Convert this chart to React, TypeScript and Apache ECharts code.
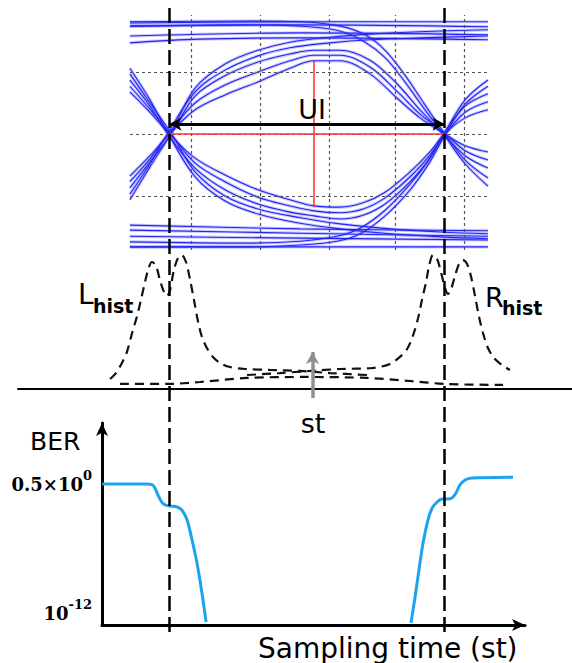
import { useEffect, useRef } from "react";
import * as echarts from "echarts";

// Horizontal scale shared by every panel: time in unit intervals (UI),
// 0 and 1 are the two crossing points of the eye.
const CROSS_PX = 169.5;
const UI_PX = 275;
const span = (left: number, width: number) => ({
  min: (left - CROSS_PX) / UI_PX,
  max: (left + width - CROSS_PX) / UI_PX,
});

// ---- Eye diagram traces: [time (UI), amplitude] ----
const topRail1 = [[-0.144, 1.79], [0.5, 1.81], [1.158, 1.81]];
const topRail2 = [[-0.144, 1.74], [0.475, 1.76], [1.158, 1.73]];
const topRail3 = [[-0.144, 1.58], [0.475, 1.63], [1.158, 1.6]];
const topRail4 = [[-0.144, 1.47], [0.11, 1.53], [0.475, 1.55], [1.158, 1.52]];

const bottomRail1 = [[-0.144, -1.47], [0.475, -1.53], [1.158, -1.56]];
const bottomRail2 = [[-0.144, -1.55], [0.475, -1.6], [1.158, -1.65]];
const bottomRail3 = [[-0.144, -1.65], [0.475, -1.68], [1.158, -1.71]];
const bottomRail4 = [[-0.144, -1.82], [1.158, -1.82]];

const upperArc1 = [[-0.144, -0.68], [-0.071, -0.35], [0, 0], [0.093, 0.39], [0.202, 0.63], [0.322, 0.84], [0.438, 1.06], [0.525, 1.18], [0.62, 1.18], [0.729, 0.97], [0.827, 0.58], [0.911, 0.26], [1.0, 0], [1.075, -0.19], [1.158, -0.29]];
const upperArc2 = [[-0.144, -0.77], [-0.071, -0.4], [-0.004, 0], [0.093, 0.5], [0.202, 0.79], [0.322, 1.0], [0.438, 1.18], [0.525, 1.27], [0.62, 1.27], [0.729, 1.08], [0.827, 0.69], [0.911, 0.32], [1.004, 0], [1.075, -0.27], [1.158, -0.42]];
const upperArc3 = [[-0.144, -0.87], [-0.071, -0.45], [0.006, 0], [0.093, 0.61], [0.202, 0.94], [0.322, 1.16], [0.438, 1.29], [0.525, 1.35], [0.62, 1.35], [0.729, 1.19], [0.827, 0.81], [0.911, 0.39], [0.996, 0], [1.075, -0.35], [1.158, -0.55]];
const riseStayHigh1 = [[-0.144, -0.97], [-0.071, -0.48], [-0.008, 0], [0.093, 0.68], [0.202, 1.03], [0.322, 1.26], [0.438, 1.39], [0.584, 1.47], [0.729, 1.52], [0.911, 1.55], [1.158, 1.58]];
const riseStayHigh2 = [[-0.144, -1.06], [-0.071, -0.53], [0.004, 0], [0.093, 0.74], [0.202, 1.13], [0.322, 1.35], [0.438, 1.48], [0.584, 1.56], [0.729, 1.61], [0.911, 1.65], [1.158, 1.68]];
const highThenFall1 = [[-0.144, 1.81], [0.293, 1.82], [0.475, 1.81], [0.62, 1.74], [0.711, 1.6], [0.784, 1.35], [0.856, 0.95], [0.929, 0.47], [1.002, 0], [1.075, -0.42], [1.158, -0.71]];
const highThenFall2 = [[-0.144, 1.74], [0.293, 1.76], [0.475, 1.74], [0.62, 1.66], [0.711, 1.48], [0.784, 1.23], [0.856, 0.84], [0.929, 0.39], [0.996, 0], [1.075, -0.48], [1.158, -0.84]];

const lowerArc1 = [[-0.144, 0.68], [-0.071, 0.35], [0, 0], [0.093, -0.39], [0.202, -0.66], [0.322, -0.9], [0.438, -1.06], [0.525, -1.16], [0.62, -1.18], [0.704, -1.11], [0.784, -0.94], [0.875, -0.61], [0.947, -0.29], [1.0, 0], [1.075, 0.26], [1.158, 0.39]];
const lowerArc2 = [[-0.144, 0.77], [-0.071, 0.4], [0.004, 0], [0.093, -0.47], [0.202, -0.77], [0.322, -1.02], [0.438, -1.16], [0.525, -1.24], [0.62, -1.27], [0.704, -1.21], [0.784, -1.03], [0.875, -0.69], [0.947, -0.34], [1.004, 0], [1.075, 0.35], [1.158, 0.52]];
const lowerArc3 = [[-0.144, 0.87], [-0.071, 0.45], [-0.006, 0], [0.093, -0.55], [0.202, -0.9], [0.322, -1.13], [0.438, -1.26], [0.525, -1.32], [0.62, -1.37], [0.704, -1.31], [0.784, -1.13], [0.875, -0.77], [0.947, -0.39], [0.996, 0], [1.075, 0.45], [1.158, 0.65]];
const fallStayLow1 = [[-0.144, 0.97], [-0.071, 0.5], [0.008, 0], [0.093, -0.61], [0.202, -1.0], [0.322, -1.21], [0.475, -1.35], [0.62, -1.45], [0.802, -1.53], [0.984, -1.58], [1.158, -1.61]];
const fallStayLow2 = [[-0.144, 1.06], [-0.071, 0.55], [-0.004, 0], [0.093, -0.69], [0.202, -1.08], [0.322, -1.29], [0.475, -1.44], [0.62, -1.53], [0.802, -1.61], [0.984, -1.66], [1.158, -1.69]];
const lowThenRise1 = [[-0.144, -1.82], [0.293, -1.82], [0.475, -1.79], [0.609, -1.73], [0.693, -1.61], [0.784, -1.32], [0.875, -0.9], [0.947, -0.45], [1.004, 0], [1.075, 0.48], [1.158, 0.77]];
const lowThenRise2 = [[-0.144, -1.74], [0.293, -1.76], [0.475, -1.73], [0.609, -1.65], [0.693, -1.52], [0.784, -1.23], [0.875, -0.81], [0.947, -0.39], [0.998, 0], [1.075, 0.55], [1.158, 0.87]];

const eyeGridTimes = [0.078, 0.329, 0.576, 0.822, 1.069];
const eyeGridLevels = [-1, 0, 1];
const eyeOpeningTime = 0.525;
const eyeOpeningLevels = [1.18, -1.18];
const uiArrowLevel = 0.16;
const crossings = [0, 1];

// ---- Crossing-time histograms: [time (UI), density] ----
const leftHist = [[-0.216, 0.071], [-0.195, 0.114], [-0.173, 0.186], [-0.155, 0.264], [-0.136, 0.4], [-0.118, 0.521], [-0.104, 0.636], [-0.089, 0.764], [-0.078, 0.85], [-0.064, 0.907], [-0.049, 0.879], [-0.035, 0.779], [-0.02, 0.693], [-0.009, 0.664], [0.002, 0.707], [0.016, 0.85], [0.031, 0.936], [0.045, 0.957], [0.06, 0.907], [0.075, 0.779], [0.089, 0.636], [0.104, 0.479], [0.118, 0.371], [0.136, 0.293], [0.158, 0.229], [0.184, 0.186], [0.22, 0.157], [0.275, 0.143], [0.365, 0.136], [0.475, 0.129], [0.584, 0.114], [0.718, 0.1]];
const rightHist = [[0.282, 0.1], [0.402, 0.114], [0.511, 0.129], [0.62, 0.143], [0.74, 0.15], [0.802, 0.179], [0.838, 0.229], [0.864, 0.286], [0.885, 0.379], [0.904, 0.507], [0.918, 0.636], [0.933, 0.764], [0.944, 0.879], [0.958, 0.957], [0.973, 0.929], [0.987, 0.836], [1.002, 0.721], [1.013, 0.679], [1.024, 0.714], [1.038, 0.807], [1.053, 0.893], [1.067, 0.921], [1.082, 0.893], [1.096, 0.807], [1.111, 0.664], [1.125, 0.521], [1.14, 0.4], [1.158, 0.293], [1.18, 0.221], [1.209, 0.171], [1.238, 0.136]];
const floorHist = [[-0.18, 0.036], [-0.009, 0.036], [0.111, 0.05], [0.282, 0.079], [0.5, 0.086], [0.718, 0.079], [0.875, 0.057], [1.002, 0.036], [1.213, 0.029]];
const samplingTime = 0.52;
const samplingArrow = [-0.064, 0.264];

// ---- Bit error rate versus sampling time: [time (UI), BER] ----
const berLeft = [[-0.245, 0.5], [-0.15, 0.5], [-0.085, 0.5], [-0.062, 0.42], [-0.053, 0.233], [-0.042, 0.0612], [-0.03, 0.018], [-0.016, 0.00906], [0.002, 0.00748], [0.027, 0.00618], [0.045, 0.00348], [0.064, 5.15e-4], [0.082, 1.13e-5], [0.1, 1.39e-7], [0.118, 4.5e-10], [0.133, 1.8e-12]];
const berRight = [[0.878, 1.5e-12], [0.893, 2.1e-10], [0.907, 3.7e-8], [0.922, 6.4e-6], [0.94, 5.2e-4], [0.955, 5.1e-3], [0.973, 0.016], [0.991, 0.0285], [1.009, 0.0285], [1.027, 0.0345], [1.042, 0.0897], [1.056, 0.413], [1.075, 1.07], [1.1, 1.57], [1.14, 1.65], [1.249, 1.85]];
const berMin = 1e-12;
const berMax = Math.pow(10, 4.76);

const eyeTraces = [
  topRail1, topRail2, topRail3, topRail4,
  bottomRail1, bottomRail2, bottomRail3, bottomRail4,
  upperArc1, upperArc2, upperArc3, riseStayHigh1, riseStayHigh2, highThenFall1, highThenFall2,
  lowerArc1, lowerArc2, lowerArc3, fallStayLow1, fallStayLow2, lowThenRise1, lowThenRise2,
];

const SANS = '"DejaVu Sans", Verdana, sans-serif';
const SERIF = '"DejaVu Serif", serif';

const label = (text: string, x: number, y: number, font: string, align = "left") => ({
  type: "text",
  x,
  y,
  silent: true,
  z: 20,
  style: { text, font, fill: "#000", align, verticalAlign: "middle" },
});

// power-of-ten tick label with a raised exponent
const powerLabel = (mantissa: string, exponent: string, x: number, y: number) => ({
  type: "text",
  x,
  y,
  silent: true,
  z: 20,
  style: {
    text: `{b|${mantissa}}{s|${exponent}}`,
    align: "right",
    verticalAlign: "middle",
    rich: {
      b: { font: `bold 18px ${SERIF}`, fill: "#000", lineHeight: 30 },
      s: { font: `bold 13px ${SERIF}`, fill: "#000", verticalAlign: "top", lineHeight: 15 },
    },
  },
});

function buildOption() {
  const eyeX = span(130, 358);
  const histX = span(18, 554);
  const berX = span(102, 423);

  const hiddenAxis = { show: false };

  const traceLine = (data: number[][], color: string, width: number, z: number) => ({
    type: "line",
    xAxisIndex: 0,
    yAxisIndex: 0,
    data,
    smooth: 0.35,
    showSymbol: false,
    silent: true,
    lineStyle: { color, width },
    z,
  });

  const series: any[] = [
    // dotted reference grid of the eye
    {
      type: "line",
      xAxisIndex: 0,
      yAxisIndex: 0,
      data: [],
      silent: true,
      z: 1,
      markLine: {
        silent: true,
        symbol: "none",
        label: { show: false },
        lineStyle: { color: "#555", type: [3, 3], width: 1.2 },
        data: [
          ...eyeGridTimes.map((x) => ({ xAxis: x })),
          ...eyeGridLevels.map((y) => ({ yAxis: y })),
        ],
      },
    },
    ...eyeTraces.map((d) => traceLine(d, "rgba(120,120,255,0.4)", 3.2, 2)),
    ...eyeTraces.map((d) => traceLine(d, "#2424f2", 1.1, 3)),
    // eye opening cursors
    {
      type: "line",
      xAxisIndex: 0,
      yAxisIndex: 0,
      data: [],
      silent: true,
      z: 4,
      markLine: {
        silent: true,
        symbol: "none",
        label: { show: false },
        lineStyle: { color: "#ff3030", type: "solid", width: 1.5 },
        data: [
          [{ coord: [eyeOpeningTime, eyeOpeningLevels[0]] }, { coord: [eyeOpeningTime, eyeOpeningLevels[1]] }],
          [{ coord: [crossings[0], 0] }, { coord: [crossings[1], 0] }],
        ],
      },
    },
    // unit interval arrow
    {
      type: "line",
      xAxisIndex: 0,
      yAxisIndex: 0,
      data: [],
      silent: true,
      z: 5,
      markLine: {
        silent: true,
        symbol: ["arrow", "arrow"],
        symbolSize: [10, 12],
        label: { show: false },
        lineStyle: { color: "#000", type: "solid", width: 3 },
        data: [[{ coord: [crossings[0], uiArrowLevel] }, { coord: [crossings[1], uiArrowLevel] }]],
      },
    },
    // histograms
    ...[leftHist, rightHist, floorHist].map((d) => ({
      type: "line",
      xAxisIndex: 1,
      yAxisIndex: 1,
      data: d,
      smooth: 0.3,
      showSymbol: false,
      silent: true,
      lineStyle: { color: "#111", width: 2.2, type: [9, 6] },
      z: 3,
    })),
    {
      type: "line",
      xAxisIndex: 1,
      yAxisIndex: 1,
      data: [],
      silent: true,
      z: 4,
      markLine: {
        silent: true,
        symbol: ["none", "arrow"],
        symbolSize: [10, 12],
        label: { show: false },
        lineStyle: { color: "#8f8f8f", type: "solid", width: 3.5 },
        data: [[{ coord: [samplingTime, samplingArrow[0]] }, { coord: [samplingTime, samplingArrow[1]] }]],
      },
    },
    // BER bathtub
    ...[berLeft, berRight].map((d) => ({
      type: "line",
      xAxisIndex: 2,
      yAxisIndex: 2,
      data: d,
      smooth: 0.3,
      showSymbol: false,
      silent: true,
      lineStyle: { color: "#1ca3f0", width: 3 },
      z: 3,
    })),
    // long dashed markers at the crossing points
    ...crossings.map((c) => ({
      type: "line",
      xAxisIndex: 3,
      yAxisIndex: 3,
      data: [[c, 0], [c, 1]],
      showSymbol: false,
      silent: true,
      lineStyle: { color: "#000", width: 2.5, type: [15, 6] },
      z: 10,
    })),
  ];

  return {
    animation: false,
    backgroundColor: "#fff",
    grid: [
      { left: 130, top: 15, width: 358, height: 235, outerBoundsMode: "none" },
      { left: 18, top: 249, width: 554, height: 154, outerBoundsMode: "none" },
      { left: 102, top: 423, width: 423, height: 202, outerBoundsMode: "none" },
      { left: 18, top: 8, width: 554, height: 624, outerBoundsMode: "none" },
    ],
    xAxis: [
      { gridIndex: 0, type: "value", min: eyeX.min, max: eyeX.max, ...hiddenAxis },
      {
        gridIndex: 1,
        type: "value",
        min: histX.min,
        max: histX.max,
        axisLine: { show: true, onZero: true, lineStyle: { color: "#000", width: 2 } },
        axisTick: { show: false },
        axisLabel: { show: false },
        splitLine: { show: false },
      },
      {
        gridIndex: 2,
        type: "value",
        min: berX.min,
        max: berX.max,
        axisLine: {
          show: true,
          onZero: false,
          symbol: ["none", "arrow"],
          symbolSize: [9, 13],
          lineStyle: { color: "#000", width: 3 },
        },
        axisTick: { show: false },
        axisLabel: { show: false },
        splitLine: { show: false },
      },
      { gridIndex: 3, type: "value", min: histX.min, max: histX.max, ...hiddenAxis },
    ],
    yAxis: [
      { gridIndex: 0, type: "value", min: -1.871, max: 1.919, ...hiddenAxis },
      { gridIndex: 1, type: "value", min: -0.1, max: 1.0, ...hiddenAxis },
      {
        gridIndex: 2,
        type: "log",
        logBase: 10,
        min: berMin,
        max: berMax,
        axisLine: {
          show: true,
          onZero: false,
          symbol: ["none", "arrow"],
          symbolSize: [9, 13],
          lineStyle: { color: "#000", width: 3 },
        },
        axisTick: { show: false },
        axisLabel: { show: false },
        splitLine: { show: false },
        minorSplitLine: { show: false },
      },
      { gridIndex: 3, type: "value", min: 0, max: 1, ...hiddenAxis },
    ],
    series,
    graphic: [
      label("UI", 312, 109, `27px ${SANS}`, "center"),
      label("L", 78, 294, `28px ${SANS}`),
      label("hist", 93, 306, `bold 19px ${SANS}`),
      label("R", 485, 297, `27px ${SANS}`),
      label("hist", 502, 308, `bold 19px ${SANS}`),
      label("st", 313, 423, `27px ${SANS}`, "center"),
      label("BER", 30, 441, `25px ${SANS}`),
      powerLabel("0.5×10", "0", 92, 484),
      powerLabel("10", "-12", 92, 613),
      label("Sampling time (st)", 258, 648, `28px ${SANS}`),
    ],
  };
}

export default function App() {
  const ref = useRef<HTMLDivElement>(null);
  useEffect(() => {
    document.body.style.margin = "0";
    const chart = echarts.init(ref.current!, null, { renderer: "svg" });
    chart.setOption(buildOption() as any);
    return () => chart.dispose();
  }, []);
  return <div ref={ref} style={{ width: 572, height: 663, background: "#fff" }} />;
}
